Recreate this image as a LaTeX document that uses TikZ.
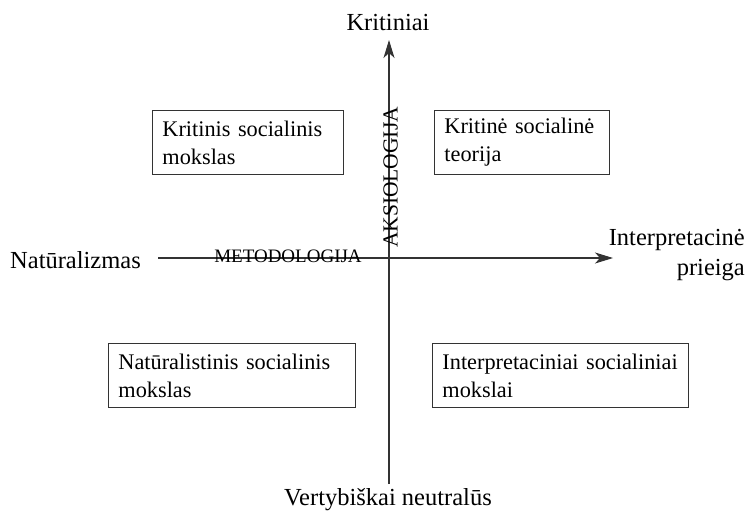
\documentclass[tikz,border=0pt]{standalone}
\usepackage{fontspec}
\setmainfont{Liberation Serif}
\usetikzlibrary{arrows.meta}
\begin{document}
\begin{tikzpicture}[x=1pt,y=-1pt,
  axis/.style={line width=1.1pt,draw=black!80,-{Stealth[length=18pt,width=11pt,inset=5pt]}},
  lbl/.style={inner sep=0pt,font=\fontsize{24.5}{27}\selectfont},
  quad/.style={draw=black!80,line width=0.9pt,anchor=north west,minimum height=64pt,inner xsep=10pt,inner ysep=0pt,align=left,font=\fontsize{22.3}{28}\selectfont},
  caps/.style={inner sep=0pt}]
\useasboundingbox (0,0) rectangle (754,515);
% axes
\coordinate (vbot) at (389,484);
\coordinate (vtop) at (389,40);
\coordinate (hleft) at (158,258);
\coordinate (hright) at (613,258);
\draw[axis] (vbot) -- (vtop);
\draw[axis] (hleft) -- (hright);
% axis labels
\node[lbl,anchor=base] (top) at (388,30) {Kritiniai};
\node[lbl,anchor=base] (bot) at (388,505) {Vertybiškai neutralūs};
\node[lbl,anchor=base west] (left) at (10,268) {Natūralizmas};
\node[lbl,anchor=base east] (right) at (745,245) {Interpretacinė};
\node[lbl,anchor=base east] (right2) at (745,275) {prieiga};
\node[caps,font=\fontsize{19}{21}\selectfont,anchor=center] (met) at (288,256.5) {METODOLOGIJA};
\node[caps,font=\fontsize{21.5}{23}\selectfont,rotate=90,anchor=center] (aks) at (390.5,177.5) {AKSIOLOGIJA};
% boxes
\node[quad,minimum width=191pt,text width=171pt] (tl) at (152,110) {Kritinis socialinis\\mokslas};
\node[quad,minimum width=175pt,text width=155pt] (tr) at (434,110) {Kritinė socialinė\\teorija};
\node[quad,minimum width=247pt,text width=227pt] (bl) at (108,343) {Natūralistinis socialinis\\mokslas};
\node[quad,minimum width=256pt,text width=236pt] (br) at (432,343) {\mbox{Interpretaciniai socialiniai}\\mokslai};
\end{tikzpicture}
\end{document}
